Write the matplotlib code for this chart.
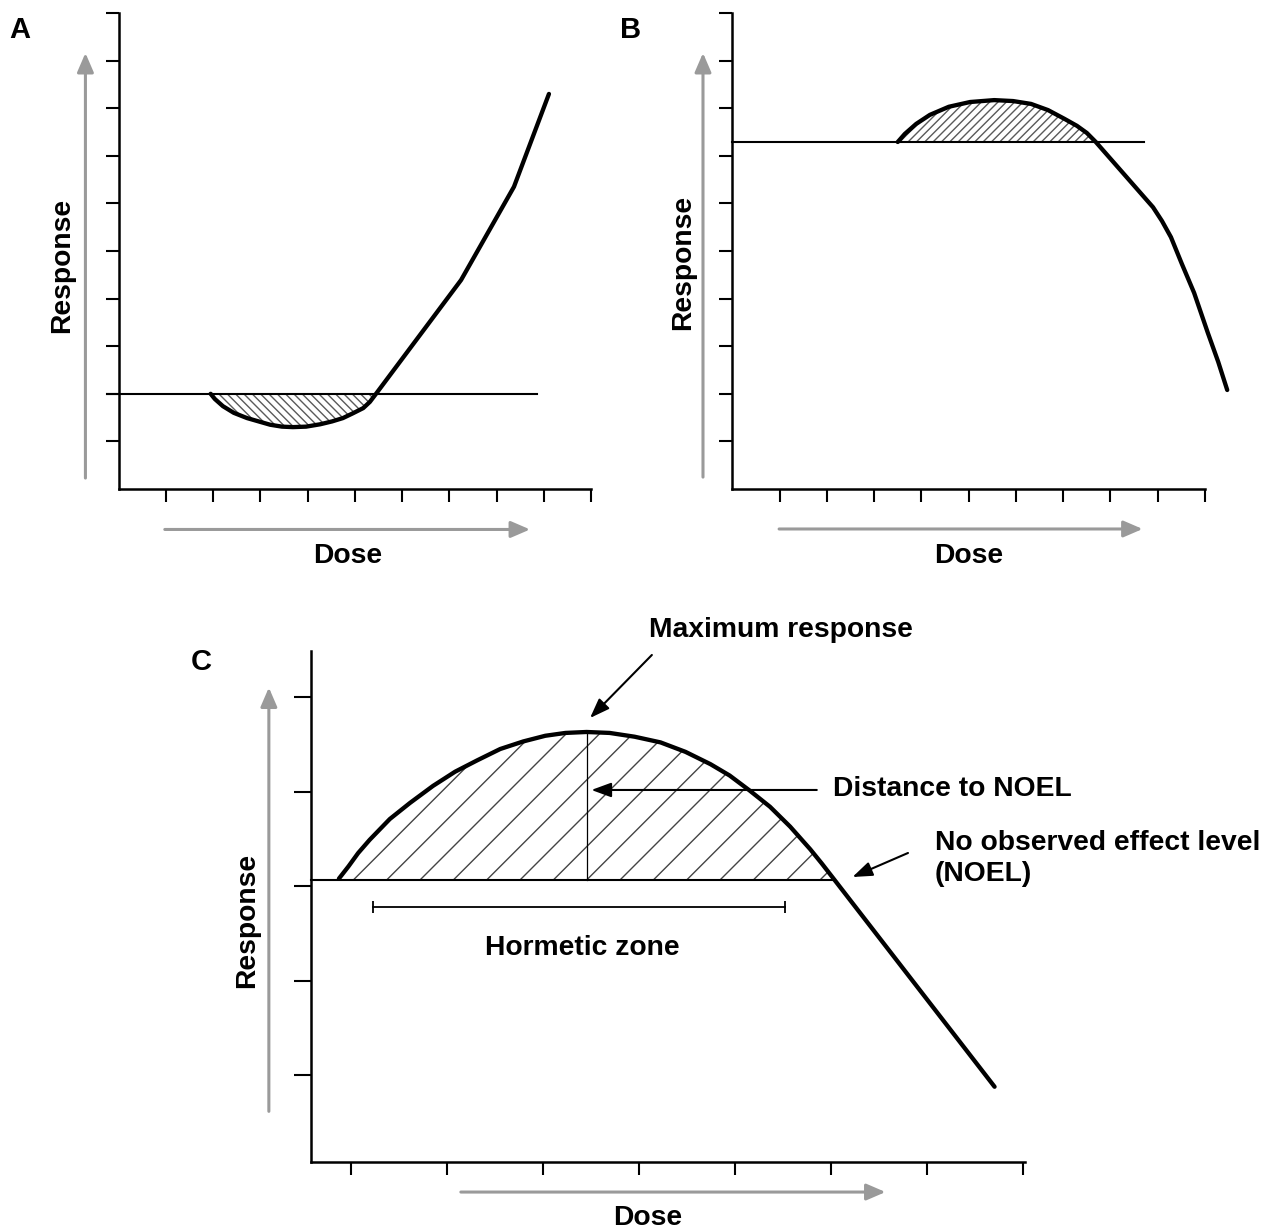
import matplotlib
matplotlib.use("Agg")
import matplotlib.pyplot as plt

plt.rcParams['font.family'] = ['Liberation Sans', 'DejaVu Sans']
plt.rcParams['font.weight'] = 'bold'
plt.rcParams['hatch.linewidth'] = 1.0

# ---------------- data ----------------
# Panel A (U-shaped / J-shaped response)
a_dose = [1.95, 2.04, 2.21, 2.44, 2.72, 3.00, 3.21, 3.46, 3.69, 3.97, 4.27, 4.52,
          4.75, 4.96, 5.18, 5.32, 5.45, 7.25, 8.37, 9.11]
a_resp = [2.00, 1.89, 1.74, 1.60, 1.49, 1.41, 1.35, 1.31, 1.30, 1.31, 1.36, 1.42,
          1.49, 1.59, 1.70, 1.83, 2.00, 4.39, 6.35, 8.30]
a_baseline = 2.0
a_baseline_x = [-0.25, 8.86]
a_hatch_n = 17          # points forming the hatched dip

# Panel B (inverted U)
b_dose = [3.50, 3.65, 3.89, 4.18, 4.58, 5.03, 5.54, 5.94, 6.32, 6.68, 7.02, 7.29,
          7.50, 7.69, 8.90, 9.09, 9.28, 9.51, 9.77, 10.06, 10.28, 10.47]
b_resp = [7.29, 7.46, 7.67, 7.86, 8.03, 8.13, 8.17, 8.15, 8.09, 7.96, 7.78, 7.63,
          7.48, 7.29, 5.92, 5.63, 5.29, 4.73, 4.12, 3.28, 2.67, 2.08]
b_baseline = 7.29
b_baseline_x = [0.0, 8.72]
b_hatch_n = 14

# Panel C (hormetic curve)
c_dose = [0.87, 0.97, 1.07, 1.19, 1.40, 1.61, 1.85, 2.08, 2.31, 2.55, 2.79, 3.02,
          3.23, 3.45, 3.69, 3.95, 4.22, 4.48, 4.74, 4.94, 5.15, 5.36, 5.57, 5.78,
          5.90, 6.03, 7.70]
c_resp = [3.08, 3.21, 3.35, 3.49, 3.71, 3.88, 4.06, 4.21, 4.33, 4.45, 4.53, 4.59,
          4.62, 4.63, 4.62, 4.58, 4.52, 4.42, 4.29, 4.17, 4.01, 3.84, 3.63, 3.39,
          3.24, 3.07, 0.88]
c_baseline = 3.07
c_baseline_x = [0.58, 6.03]
c_hatch_n = 26
c_peak = (3.45, 4.63)
c_zone = [1.225, 5.517]
c_zone_y = 2.78

ticks_ab_x = [1, 2, 3, 4, 5, 6, 7, 8, 9, 10]
ticks_ab_y = [1, 2, 3, 4, 5, 6, 7, 8, 9, 10]
ticks_c_x = [1, 2, 3, 4, 5, 6, 7, 8]
ticks_c_y = [1, 2, 3, 4, 5]

W, H = 1271, 1229
fig = plt.figure(figsize=(W / 100, H / 100), dpi=100)

GRAY = '#9a9a9a'
FS = 20.3
CURVE_LW = 3.1


def make_axes(l, t, r, b, xlim, ylim, xticks, yticks, xlen, ylen):
    ax = fig.add_axes([l / W, 1 - b / H, (r - l) / W, (b - t) / H])
    ax.set_xlim(xlim)
    ax.set_ylim(ylim)
    for s in ['top', 'right']:
        ax.spines[s].set_visible(False)
    for s in ['left', 'bottom']:
        ax.spines[s].set_linewidth(1.8)
    ax.set_xticks(xticks)
    ax.set_yticks(yticks)
    ax.tick_params(axis='x', length=xlen, width=1.5, labelbottom=False, direction='out')
    ax.tick_params(axis='y', length=ylen, width=1.5, labelleft=False, direction='out')
    ax.patch.set_visible(False)
    return ax


def gray_arrow(ax, tail, tip):
    ax.annotate('', xy=tip, xytext=tail, annotation_clip=False,
                arrowprops=dict(arrowstyle='-|>,head_length=0.58,head_width=0.25',
                                color=GRAY, lw=2.2, shrinkA=0, shrinkB=0,
                                mutation_scale=20))


def black_arrow(ax, tail, tip):
    ax.annotate('', xy=tip, xytext=tail, annotation_clip=False,
                arrowprops=dict(arrowstyle='-|>,head_length=0.6,head_width=0.22',
                                color='black', lw=1.5, shrinkA=0, shrinkB=0,
                                mutation_scale=20))


def ftext(x, y, s, **kw):
    fig.text(x / W, 1 - y / H, s, ha='center', va='center', fontweight='bold', **kw)


def curve(ax, xs, ys):
    ax.plot(xs, ys, color='black', lw=CURVE_LW, clip_on=False,
            solid_joinstyle='round', solid_capstyle='round')


# ---------------- Panel A ----------------
axA = make_axes(118.5, 13, 591, 489, (0, 10), (0, 10), ticks_ab_x, ticks_ab_y, 9.5, 9.5)
axA.fill_between(a_dose[:a_hatch_n], a_resp[:a_hatch_n], a_baseline,
                 facecolor='white', edgecolor='#5a5a5a', hatch='\\\\\\\\', linewidth=0)
axA.plot(a_baseline_x, [a_baseline, a_baseline], color='black', lw=1.5, clip_on=False)
curve(axA, a_dose, a_resp)
gray_arrow(axA, (-0.70, 0.23), (-0.70, 9.16))
gray_arrow(axA, (0.98, -0.85), (8.71, -0.85))
ftext(20, 30, 'A', fontsize=21)
ftext(62, 265, 'Response', fontsize=FS, rotation=90)
ftext(348, 556, 'Dose', fontsize=FS)

# ---------------- Panel B ----------------
axB = make_axes(732.3, 13, 1205, 489, (0, 10), (0, 10), ticks_ab_x, ticks_ab_y, 9.5, 9.5)
axB.fill_between(b_dose[:b_hatch_n], b_resp[:b_hatch_n], b_baseline,
                 facecolor='white', edgecolor='#5a5a5a', hatch='////', linewidth=0)
axB.plot(b_baseline_x, [b_baseline, b_baseline], color='black', lw=1.5, clip_on=False)
curve(axB, b_dose, b_resp)
gray_arrow(axB, (-0.62, 0.25), (-0.62, 9.16))
gray_arrow(axB, (0.99, -0.84), (8.68, -0.84))
ftext(631, 30, 'B', fontsize=21)
ftext(683, 262, 'Response', fontsize=FS, rotation=90)
ftext(969, 556, 'Dose', fontsize=FS)

# ---------------- Panel C ----------------
axC = make_axes(311, 651, 1025, 1162, (0.579, 8.017), (0.0846, 5.486),
                ticks_c_x, ticks_c_y, 9.5, 12)
axC.fill_between(c_dose[:c_hatch_n], c_resp[:c_hatch_n], c_baseline,
                 facecolor='white', edgecolor='#444444', hatch='/', linewidth=0)
axC.plot(c_baseline_x, [c_baseline, c_baseline], color='black', lw=1.5, clip_on=False)
axC.plot([c_peak[0], c_peak[0]], [c_baseline, c_peak[1]], color='black', lw=0.9)
curve(axC, c_dose, c_resp)
# hormetic zone bar
axC.plot(c_zone, [c_zone_y, c_zone_y], color='black', lw=1.3)
axC.vlines(c_zone, c_zone_y - 0.065, c_zone_y + 0.065, color='black', lw=1.3)
axC.text(3.41, 2.347, 'Hormetic zone', ha='center', va='center', fontsize=FS,
         fontweight='bold')
# annotations
axC.text(5.475, 5.708, 'Maximum response', ha='center', va='center', fontsize=FS,
         fontweight='bold', clip_on=False)
black_arrow(axC, (4.13, 5.444), (3.486, 4.778))
axC.text(6.017, 4.027, 'Distance to NOEL', ha='left', va='center', fontsize=FS,
         fontweight='bold', clip_on=False)
black_arrow(axC, (5.848, 4.017), (3.50, 4.017))
axC.text(7.079, 3.293, 'No observed effect level\n(NOEL)', ha='left', va='center',
         fontsize=FS, fontweight='bold', linespacing=1.22, clip_on=False)
black_arrow(axC, (6.798, 3.351), (6.22, 3.097))

gray_arrow(axC, (0.14, 0.62), (0.14, 5.10))
gray_arrow(axC, (2.14, -0.233), (6.564, -0.233))
ftext(201, 662, 'C', fontsize=21)
ftext(247, 920, 'Response', fontsize=FS, rotation=90)
ftext(648, 1218, 'Dose', fontsize=FS)

fig.savefig('out.png', dpi=100, facecolor='white')
